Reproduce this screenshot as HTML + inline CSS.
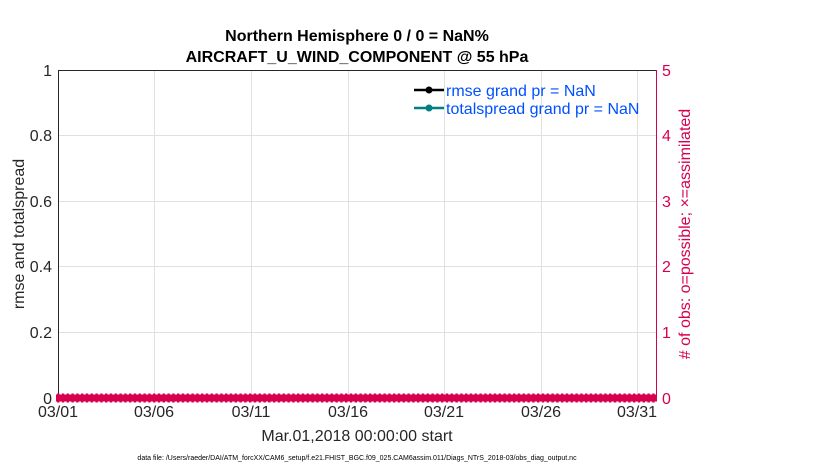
<!DOCTYPE html>
<html><head><style>body{margin:0;background:#fff}svg{display:block;font-family:"Liberation Sans",sans-serif}</style></head><body>
<svg width="830" height="470" xmlns="http://www.w3.org/2000/svg">
<rect width="830" height="470" fill="#fff"/>
<g stroke="#e0e0e0" stroke-width="1">
<line x1="154.5" y1="70" x2="154.5" y2="398"/><line x1="251.5" y1="70" x2="251.5" y2="398"/><line x1="348.5" y1="70" x2="348.5" y2="398"/><line x1="444.5" y1="70" x2="444.5" y2="398"/><line x1="541.5" y1="70" x2="541.5" y2="398"/><line x1="637.5" y1="70" x2="637.5" y2="398"/>
<line x1="58" y1="332.5" x2="656" y2="332.5"/><line x1="58" y1="266.5" x2="656" y2="266.5"/><line x1="58" y1="201.5" x2="656" y2="201.5"/><line x1="58" y1="135.5" x2="656" y2="135.5"/>
</g>
<line x1="58" y1="70.5" x2="656" y2="70.5" stroke="#262626"/>
<line x1="58" y1="398.5" x2="656" y2="398.5" stroke="#262626"/>
<line x1="58.5" y1="70" x2="58.5" y2="398" stroke="#262626"/>
<line x1="656.5" y1="70" x2="656.5" y2="398" stroke="#d6004f"/>
<g font-size="16" fill="#262626" text-anchor="end">
<text x="52" y="76">1</text><text x="52" y="141">0.8</text><text x="52" y="207">0.6</text><text x="52" y="272">0.4</text><text x="52" y="338">0.2</text><text x="52" y="404">0</text>
</g>
<g font-size="16" fill="#d6004f">
<text x="662" y="76">5</text><text x="662" y="141">4</text><text x="662" y="207">3</text><text x="662" y="272">2</text><text x="662" y="338">1</text><text x="662" y="404">0</text>
</g>
<g font-size="16" fill="#262626" text-anchor="middle">
<text x="58" y="417">03/01</text><text x="154" y="417">03/06</text><text x="251" y="417">03/11</text><text x="348" y="417">03/16</text><text x="444" y="417">03/21</text><text x="541" y="417">03/26</text><text x="637" y="417">03/31</text>
<text x="357" y="441">Mar.01,2018 00:00:00 start</text>
</g>
<text x="357" y="41" font-size="16" font-weight="bold" text-anchor="middle" fill="#000">Northern Hemisphere 0 / 0 = NaN%</text>
<text x="357" y="62" font-size="16" font-weight="bold" text-anchor="middle" fill="#000">AIRCRAFT_U_WIND_COMPONENT @ 55 hPa</text>
<text transform="translate(24,234) rotate(-90)" font-size="16" text-anchor="middle" fill="#262626">rmse and totalspread</text>
<text transform="translate(690,234) rotate(-90)" font-size="16" text-anchor="middle" fill="#d6004f"># of obs: o=possible; ×=assimilated</text>
<text x="357" y="460" font-size="7" text-anchor="middle" fill="#000">data file: /Users/raeder/DAI/ATM_forcXX/CAM6_setup/f.e21.FHIST_BGC.f09_025.CAM6assim.011/Diags_NTrS_2018-03/obs_diag_output.nc</text>
<line x1="414" y1="90" x2="444" y2="90" stroke="#000" stroke-width="2.5"/><circle cx="429" cy="90" r="3.5" fill="#000"/>
<line x1="414" y1="108" x2="444" y2="108" stroke="#008080" stroke-width="2.5"/><circle cx="429" cy="108" r="3.5" fill="#008080"/>
<text x="446" y="96" font-size="16" fill="#0050ff">rmse grand pr = NaN</text>
<text x="446" y="114" font-size="16" fill="#0050ff">totalspread grand pr = NaN</text>
<path fill="none" stroke="#d6004f" stroke-width="7" d="M56 398H657"/>
<path fill="none" stroke="#d6004f" stroke-width="9" stroke-dasharray="2.4 2.4" d="M57 398H657"/>
</svg>
</body></html>
